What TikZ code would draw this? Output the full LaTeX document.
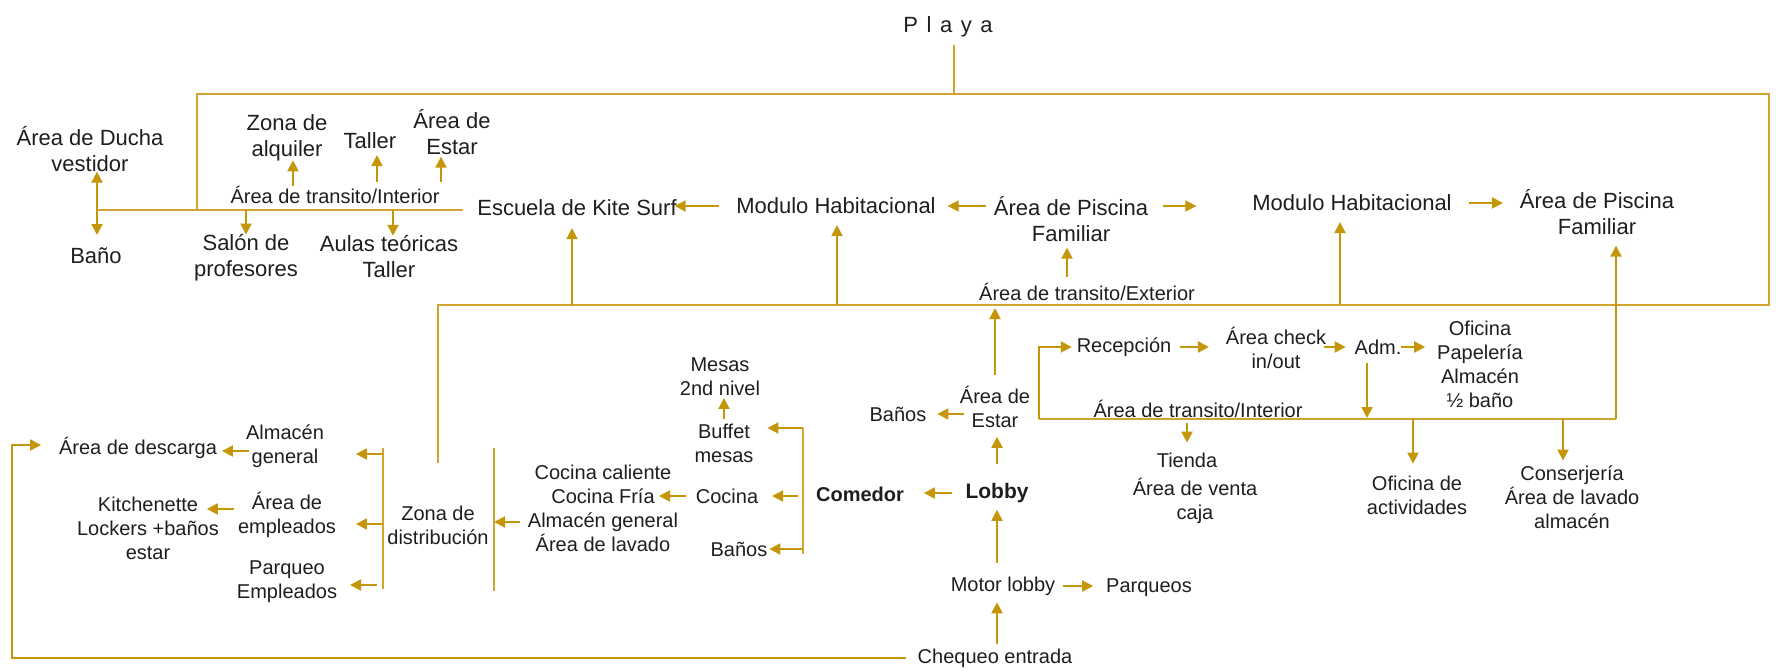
\documentclass[tikz,border=0pt]{standalone}
\usepackage{fontspec}
\setmainfont{Liberation Sans}
\usetikzlibrary{arrows.meta,calc}
\definecolor{gold}{RGB}{197,150,10}
\definecolor{goldl}{RGB}{208,164,45}
\definecolor{txt}{RGB}{30,30,30}
\begin{document}
\begin{tikzpicture}[x=1pt,y=-1pt,
  every node/.style={inner sep=0pt,outer sep=0pt,align=center,text=txt},
  L/.style={font=\fontsize{22pt}{26pt}\selectfont},
  S/.style={font=\fontsize{20pt}{24pt}\selectfont},
  SB/.style={font=\fontsize{20pt}{24pt}\selectfont\bfseries},
  LB/.style={font=\fontsize{21pt}{24pt}\selectfont\bfseries},
  arr/.style={draw=gold,line width=2pt,-{Triangle[length=11pt,width=11pt]}},
  ln/.style={draw=goldl,line width=1.6pt}]
\useasboundingbox (0,0) rectangle (1776,671);

% ---------- nodes: upper part ----------
\node[L] (playa) at (948,27) {P\hspace{8.5pt}l\hspace{8.5pt}a\hspace{8.5pt}y\hspace{8.5pt}a};
\node[L] (ducha) at (90,149) {Área de Ducha\\vestidor};
\node[L] (bano) at (96,256) {Baño};
\node[L] (alquiler) at (287,138) {Zona de\\alquiler};
\node[L] (taller) at (370,141) {Taller};
\node[L] (estarK) at (452,132) {Área de\\Estar};
\node[S] (transK) at (335,195) {Área de transito/Interior};
\node[L] (salon) at (246,258) {Salón de\\profesores};
\node[L] (aulas) at (389,257) {Aulas teóricas\\Taller};
\node[L] (kite) at (577,208) {Escuela de Kite Surf};
\node[L] (modA) at (836,206) {Modulo Habitacional};
\node[L] (piscA) at (1071,219) {Área de Piscina\\Familiar};
\node[S] (transE) at (1087,292) {Área de transito/Exterior};
\node[L] (modB) at (1352,203) {Modulo Habitacional};
\node[L] (piscB) at (1597,212) {Área de Piscina\\Familiar};

% ---------- nodes: lower part ----------
\node[S] (estarL) at (995,407) {Área de\\Estar};
\node[S] (banosL) at (898,414) {Baños};
\node[LB] (lobby) at (997,493) {Lobby};
\node[SB] (comedor) at (860,494) {Comedor};
\node[S] (motor) at (1003,586) {Motor lobby};
\node[S] (parqueos) at (1149,588) {Parqueos};
\node[S] (chequeo) at (995,658) {Chequeo entrada};
\node[S] (recep) at (1124,347) {Recepción};
\node[S] (check) at (1276,348) {Área check\\in/out};
\node[S] (adm) at (1378,347) {Adm.};
\node[S] (oficina) at (1480,364) {Oficina\\Papelería\\Almacén\\½ baño};
\node[S] (transL) at (1198,409) {Área de transito/Interior};
\node[S] (tienda) at (1187,460) {Tienda};
\node[S] (venta) at (1195,501) {Área de venta\\caja};
\node[S] (activ) at (1417,495) {Oficina de\\actividades};
\node[S] (conserj) at (1572,497) {Conserjería\\Área de lavado\\almacén};
\node[S] (mesas) at (720,377) {Mesas\\2nd nivel};
\node[S] (buffet) at (724,443) {Buffet\\mesas};
\node[S] (cocina) at (727,496) {Cocina};
\node[S] (coclist) at (603,508) {Cocina caliente\\Cocina Fría\\Almacén general\\Área de lavado};
\node[S] (banosC) at (739,549) {Baños};
\node[S] (zona) at (438,525) {Zona de\\distribución};
\node[S] (almacen) at (285,446) {Almacén\\general};
\node[S] (descarga) at (138,448) {Área de descarga};
\node[S] (empleados) at (287,515) {Área de\\empleados};
\node[S] (kitchen) at (148,528) {Kitchenette\\Lockers +baños\\estar};
\node[S] (parqueoE) at (287,582) {Parqueo\\Empleados};

% ---------- structural coordinates ----------
\coordinate (kL) at (97,210);
\coordinate (kR) at (463,210);
\coordinate (fTL) at (197,94);
\coordinate (fTR) at (1769,94);
\coordinate (fBR) at (1769,305);
\coordinate (fBL) at (438,305);
\coordinate (fZ) at (438,463);
\coordinate (pst) at (954,94);
\coordinate (bxBL) at (1039,419);
\coordinate (bxBR) at (1616,419);
\coordinate (cbT) at (803,428);
\coordinate (cbB) at (803,554);
\coordinate (zlT) at (383,448);
\coordinate (zlB) at (383,589);
\coordinate (zrT) at (494,448);
\coordinate (zrB) at (494,591);
\coordinate (chL) at (12,658);
\coordinate (chT) at (12,445);
% shifted attachment points (canvas yshift is upward)
\coordinate (cw) at ([yshift=-14pt]coclist.west);
\coordinate (zl1) at ([yshift=-6pt]zlT);
\coordinate (ee) at ([yshift=-9pt]empleados.east);
\coordinate (pe) at ([yshift=-3pt]parqueoE.east);
\coordinate (aw) at ([yshift=-5pt]almacen.west);
\coordinate (ew) at ([yshift=6pt]empleados.west);

% ---------- frame lines ----------
\draw[ln,shorten <=8pt] (pst |- playa.south) -- (pst);
\draw[ln] (kL) -- (kR);
\draw[ln] (fTL |- kL) -- (fTL) -- (fTR) -- (fBR) -- (fBL) -- (fZ);
\draw[ln] (bxBL) -- (bxBR);
\draw[ln] (cbT) -- (cbB);
\draw[ln] (zlT) -- (zlB);
\draw[ln] (zrT) -- (zrB);

% ---------- kite surf school ----------
\draw[arr] (kL) -- (kL |- ducha.south);
\draw[arr,shorten >=13pt] (kL) -- (kL |- bano.north);
\draw[arr,shorten >=-1pt] ([xshift=6pt]alquiler.south |- transK.north) -- ([xshift=6pt]alquiler.south);
\draw[arr,shorten <=4pt,shorten >=6pt] ([xshift=7pt]taller.south |- transK.north) -- ([xshift=7pt]taller.south);
\draw[arr,shorten <=4pt,shorten >=2pt] ([xshift=-11pt]estarK.south |- transK.north) -- ([xshift=-11pt]estarK.south);
\draw[arr] (salon.north |- kL) -- (salon.north);
\draw[arr] ([xshift=4pt]aulas.north |- kL) -- ([xshift=4pt]aulas.north);

% ---------- top row ----------
\draw[arr,shorten <=17pt,shorten >=-2pt] (modA.west) -- (kite.east |- modA.west);
\draw[arr,shorten <=8pt,shorten >=12pt] (piscA.west |- modA.east) -- (modA.east);
\draw[arr,shorten <=15pt,shorten >=56pt] (piscA.east |- modA.east) -- (modB.west |- modA.east);
\draw[arr,shorten <=17pt,shorten >=17pt] (modB.east) -- (piscB.west |- modB.east);
\draw[arr,shorten >=12pt] ([xshift=-5pt]kite.south |- fBL) -- ([xshift=-5pt]kite.south);
\draw[arr,shorten >=11pt] ([xshift=1pt]modA.south |- fBL) -- ([xshift=1pt]modA.south);
\draw[arr,shorten <=6pt,shorten >=6pt] ([xshift=-4pt]piscA.south |- transE.north) -- ([xshift=-4pt]piscA.south);
\draw[arr,shorten <=1pt,shorten >=11pt] ([xshift=-12pt]modB.south |- fBL) -- ([xshift=-12pt]modB.south);
\draw[arr,shorten >=11pt] (bxBR) -- (bxBR |- piscB.south);

% ---------- lobby ----------
\draw[arr,shorten <=11pt,shorten >=3pt] (estarL.north) -- (estarL.north |- fBL);
\draw[arr,shorten <=-4pt,shorten >=11pt] (estarL.west |- banosL.east) -- (banosL.east);
\draw[arr,shorten <=19pt,shorten >=9pt] (lobby.north) -- (lobby.north |- estarL.south);
\draw[arr,shorten <=14pt,shorten >=20pt] (lobby.west) -- (comedor.east |- lobby.west);
\draw[arr,shorten <=14pt,shorten >=7pt] (lobby.south |- motor.north) -- (lobby.south);
\draw[arr,shorten <=5pt,shorten >=7pt] (lobby.south |- chequeo.north) -- (lobby.south |- motor.south);
\draw[arr,shorten <=8pt,shorten >=13pt] (motor.east) -- (parqueos.west |- motor.east);
\draw[arr,shorten <=12pt,shorten >=18pt] (chequeo.west) -- (chL) -- (chT) -- (descarga.west |- chT);

% ---------- reception box ----------
\draw[arr,shorten >=5pt] (bxBL) -- (bxBL |- recep.west) -- (recep.west);
\draw[arr,shorten <=9pt,shorten >=17pt] (recep.east) -- (check.west |- recep.east);
\draw[arr,shorten <=-2pt,shorten >=9pt] (check.east |- adm.west) -- (adm.west);
\draw[arr,shorten >=12pt] (adm.east) -- (oficina.west |- adm.east);
\draw[arr,shorten <=9pt,shorten >=1pt] ([xshift=-11pt]adm.south) -- ([xshift=-11pt]adm.south |- bxBL);
\draw[arr,shorten <=4pt,shorten >=10pt] (tienda.north |- bxBL) -- (tienda.north);
\draw[arr,shorten >=12pt] ([xshift=-4pt]activ.north |- bxBL) -- ([xshift=-4pt]activ.north);
\draw[arr,shorten >=5pt] ([xshift=-9pt]conserj.north |- bxBL) -- ([xshift=-9pt]conserj.north);

% ---------- comedor ----------
\draw[arr,shorten >=14pt] (cbT) -- (buffet.east |- cbT);
\draw[arr,shorten <=5pt,shorten >=14pt] (cbT |- cocina.east) -- (cocina.east);
\draw[arr,shorten >=2pt] (cbB |- banosC.east) -- (banosC.east);
\draw[arr,shorten <=5pt,shorten >=2pt] (buffet.north) -- (buffet.north |- mesas.south);
\draw[arr,shorten <=10pt,shorten >=-19pt] (cocina.west) -- (coclist.east |- cocina.west);
\draw[arr,shorten <=8pt] (cw) -- (zrT |- cw);

% ---------- zona de distribucion ----------
\draw[arr,shorten >=32pt] (zl1) -- (almacen.east |- zl1);
\draw[arr,shorten >=20pt] (zlT |- ee) -- (ee);
\draw[arr,shorten <=6pt,shorten >=13pt] (zlT |- pe) -- (pe);
\draw[arr,shorten <=-3pt,shorten >=5pt] (aw) -- (descarga.east |- aw);
\draw[arr,shorten <=4pt,shorten >=-12pt] (ew) -- (kitchen.east |- ew);
\end{tikzpicture}
\end{document}
